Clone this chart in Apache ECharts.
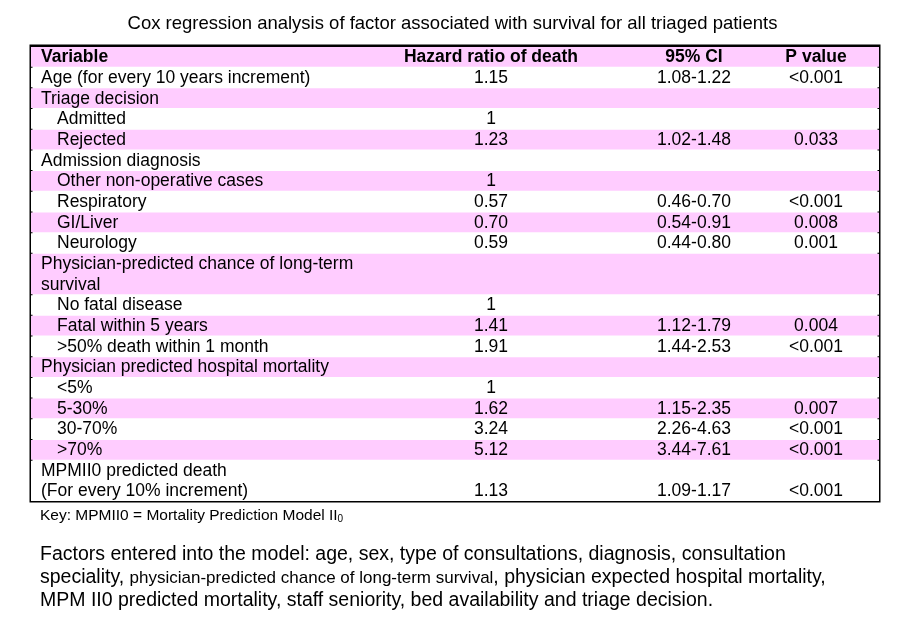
<!DOCTYPE html>
<html>
<head>
<meta charset="utf-8">
<script src="https://cdn.jsdelivr.net/npm/echarts@6/dist/echarts.min.js"></script>
<style>body{margin:0}#c{width:905px;height:632px}</style>
</head>
<body>
<div id="c"></div>
<script>
// table rows: variable label, indent, hazard ratio, CI, p value, number of text lines
const variables = ["Variable", "Age (for every 10 years increment)", "Triage decision", "Admitted", "Rejected",
  "Admission diagnosis", "Other non-operative cases", "Respiratory", "GI/Liver", "Neurology",
  "Physician-predicted chance of long-term\nsurvival", "No fatal disease", "Fatal within 5 years",
  ">50% death within 1 month", "Physician predicted hospital mortality", "<5%", "5-30%", "30-70%", ">70%",
  "MPMII0 predicted death\n(For every 10% increment)"]
const indents = [0, 0, 0, 1, 1, 0, 1, 1, 1, 1, 0, 1, 1, 1, 0, 1, 1, 1, 1, 0]
const hazard = ["Hazard ratio of death", "1.15", "", "1", "1.23", "", "1", "0.57", "0.70", "0.59",
  "", "1", "1.41", "1.91", "", "1", "1.62", "3.24", "5.12", "1.13"]
const ci = ["95% CI", "1.08-1.22", "", "", "1.02-1.48", "", "", "0.46-0.70", "0.54-0.91", "0.44-0.80",
  "", "", "1.12-1.79", "1.44-2.53", "", "", "1.15-2.35", "2.26-4.63", "3.44-7.61", "1.09-1.17"]
const pValues = ["P value", "<0.001", "", "", "0.033", "", "", "<0.001", "0.008", "0.001",
  "", "", "0.004", "<0.001", "", "", "0.007", "<0.001", "<0.001", "<0.001"]
const lineCounts = [1, 1, 1, 1, 1, 1, 1, 1, 1, 1, 2, 1, 1, 1, 1, 1, 1, 1, 1, 2]

const pink = "#ffccff"
const font = "Liberation Sans, Arial, sans-serif"

// build row spans and cells
const rows = []
const cells = []
let line = 0
variables.forEach((v, i) => {
  const n = lineCounts[i]
  rows.push([line, n, i % 2 === 0 ? pink : "#ffffff"])
  const bold = i === 0
  cells.push([indents[i] ? 26 : 10, line, n, v, "left", bold])
  // numeric values sit on the last line of the row
  const last = line + n - 1
  if (hazard[i]) cells.push([460, last, 1, hazard[i], "center", bold])
  if (ci[i]) cells.push([663, last, 1, ci[i], "center", bold])
  if (pValues[i]) cells.push([785, last, 1, pValues[i], "center", bold])
  line += n
})
const totalLines = line

const chart = echarts.init(document.getElementById("c"))
chart.setOption({
  animation: false,
  backgroundColor: "#fff",
  title: {
    text: "Cox regression analysis of factor associated with survival for all triaged patients",
    left: "center", top: 9,
    textStyle: {fontFamily: font, fontSize: 18.5, fontWeight: "normal", color: "#000"}
  },
  grid: {left: 31, right: 26, top: 46, bottom: 131, show: true, borderColor: "#000", borderWidth: 3},
  xAxis: {type: "value", min: 0, max: 848, show: false},
  yAxis: {type: "value", min: 0, max: totalLines, inverse: true, show: false},
  series: [{
    type: "custom",
    z: 1,
    data: rows,
    renderItem: (params, api) => {
      const p0 = api.coord([0, api.value(0)])
      const p1 = api.coord([848, api.value(0) + api.value(1)])
      return {type: "rect", shape: {x: p0[0], y: p0[1] + 1, width: p1[0] - p0[0], height: p1[1] - p0[1] - 1},
        style: {fill: rows[params.dataIndex][2]}}
    }
  }, {
    type: "custom",
    z: 2,
    data: cells.map(c => [c[0], c[1], c[2]]),
    renderItem: (params, api) => {
      const c = cells[params.dataIndex]
      const p = api.coord([c[0], c[1] + c[2] / 2])
      return {type: "text", x: p[0], y: p[1] + 1,
        style: {text: c[3], textAlign: c[4], textVerticalAlign: "middle", lineHeight: 20.6,
          font: (c[5] ? "bold " : "") + "17.5px " + font, fill: "#000"}}
    }
  }],
  graphic: [{
    type: "text", left: 40, top: 508,
    style: {text: "{a|Key: MPMII0 = Mortality Prediction Model II}{s|0}",
      rich: {a: {fontFamily: font, fontSize: 15.5, fill: "#000"}, s: {fontFamily: font, fontSize: 10, padding: [7, 0, 0, 0]}}}
  }, {
    type: "text", left: 40, top: 545,
    style: {
      text: "{a|Factors entered into the model: age, sex, type of consultations, diagnosis, consultation}\n" +
        "{a|speciality, }{b|physician-predicted chance of long-term survival}{a|, physician expected hospital mortality,}\n" +
        "{a|MPM II0 predicted mortality, staff seniority, bed availability and triage decision.}",
      rich: {a: {fontFamily: font, fontSize: 19.5, lineHeight: 23, fill: "#000"},
             b: {fontFamily: font, fontSize: 17, lineHeight: 23, fill: "#000"}}
    }
  }]
})
</script>
</body>
</html>
